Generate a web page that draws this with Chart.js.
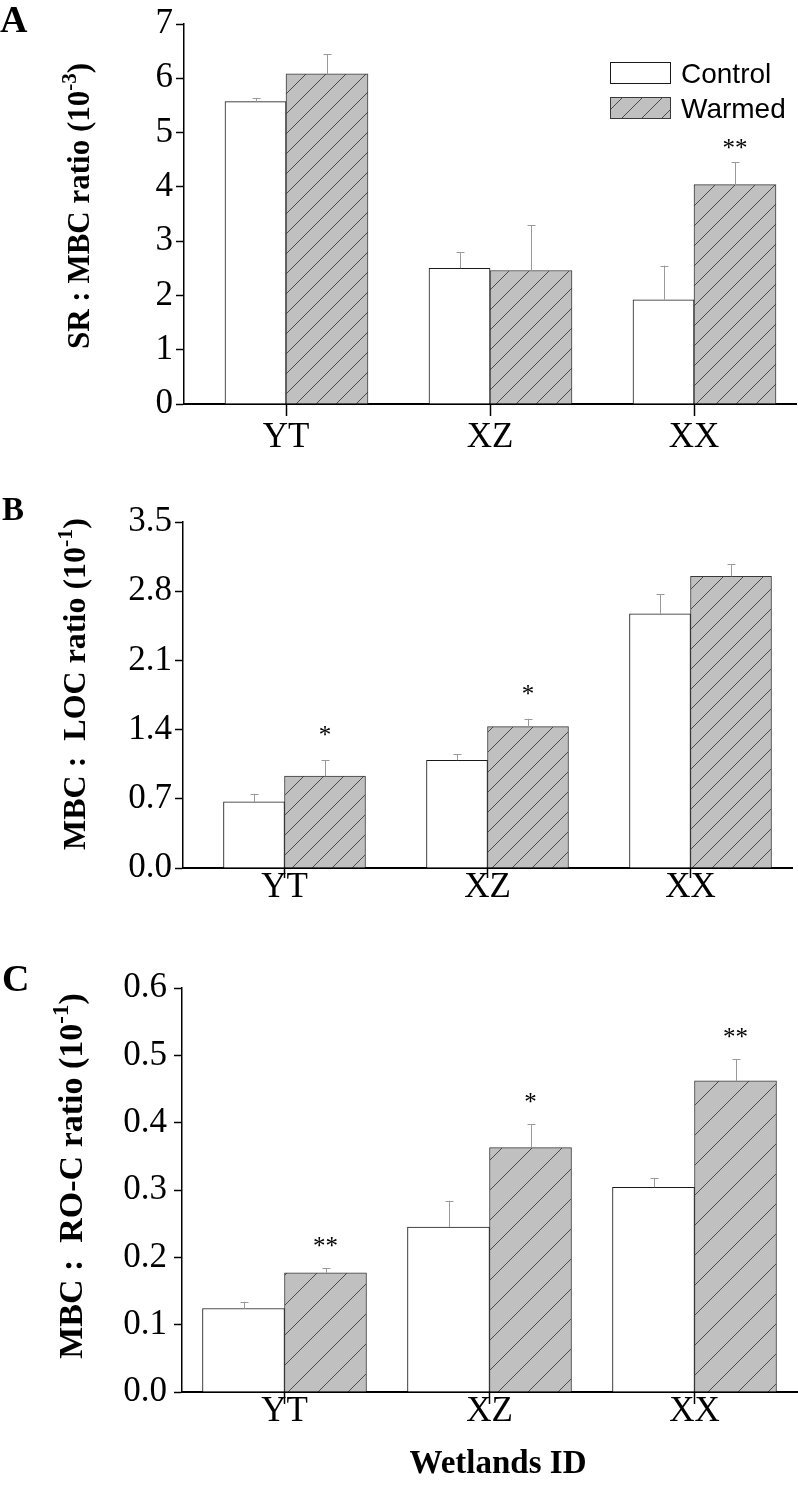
<!DOCTYPE html>
<html>
<head>
<meta charset="utf-8">
<title>Wetlands ratios</title>
<script src="https://cdn.jsdelivr.net/npm/chart.js@4.4.1/dist/chart.umd.min.js"></script>
<style>
  body { margin: 0; background: #fff; }
  .panel { position: absolute; left: 0; }
</style>
</head>
<body>
<canvas id="chartA" class="panel" style="top:0" width="798" height="480"></canvas>
<canvas id="chartB" class="panel" style="top:480px" width="798" height="480"></canvas>
<canvas id="chartC" class="panel" style="top:960px" width="798" height="546"></canvas>
<script>
const categories = ['YT', 'XZ', 'XX'];
const seriesNames = ['Control', 'Warmed'];

// A - SR : MBC ratio (10^-3)
const srControl = [5.57, 2.50, 1.92];
const srControlErr = [0.07, 0.30, 0.63];
const srWarmed = [6.08, 2.46, 4.04];
const srWarmedErr = [0.36, 0.83, 0.41];
const srSig = ['', '', '**'];
const srTicks = [0, 1, 2, 3, 4, 5, 6, 7];

// B - MBC : LOC ratio (10^-1)
const locControl = [0.67, 1.09, 2.57];
const locControlErr = [0.08, 0.06, 0.20];
const locWarmed = [0.93, 1.43, 2.95];
const locWarmedErr = [0.16, 0.08, 0.125];
const locSig = ['*', '*', ''];
const locTicks = [0, 0.7, 1.4, 2.1, 2.8, 3.5];

// C - MBC : RO-C ratio (10^-1)
const rocControl = [0.124, 0.245, 0.304];
const rocControlErr = [0.010, 0.039, 0.014];
const rocWarmed = [0.177, 0.363, 0.462];
const rocWarmedErr = [0.007, 0.035, 0.032];
const rocSig = ['**', '*', '**'];
const rocTicks = [0, 0.1, 0.2, 0.3, 0.4, 0.5, 0.6];

const serif = '"Liberation Serif", "Times New Roman", serif';

function hatch(canvas, step) {
    const c = document.createElement('canvas');
    c.width = step;
    c.height = step;
    const g = c.getContext('2d');
    g.fillStyle = '#c0c0c0';
    g.fillRect(0, 0, step, step);
    g.strokeStyle = '#4a4a4a';
    g.lineWidth = 1;
    g.beginPath();
    for (let k = -1; k <= 1; k++) {
        g.moveTo(k * step, step);
        g.lineTo(k * step + step, 0);
    }
    g.stroke();
    return canvas.getContext('2d').createPattern(c, 'repeat');
}

// error bars (upper only) + significance stars
const errorBars = {
    id: 'errorBars',
    afterDatasetsDraw(chart, args, opts) {
        const ctx = chart.ctx;
        const y = chart.scales.y;
        chart.data.datasets.forEach((ds, i) => {
            chart.getDatasetMeta(i).data.forEach((bar, j) => {
                const top = y.getPixelForValue(ds.data[j] + ds.errors[j]);
                const x = Math.round(bar.x) + 0.5;
                ctx.save();
                ctx.strokeStyle = '#9a9a9a';
                ctx.lineWidth = 1;
                ctx.beginPath();
                ctx.moveTo(x, bar.y);
                ctx.lineTo(x, top);
                ctx.moveTo(x - 4, Math.round(top) + 0.5);
                ctx.lineTo(x + 4, Math.round(top) + 0.5);
                ctx.stroke();
                if (ds.sig && ds.sig[j]) {
                    ctx.fillStyle = '#000';
                    ctx.font = '25px ' + serif;
                    ctx.textAlign = 'center';
                    ctx.textBaseline = 'alphabetic';
                    ctx.fillText(ds.sig[j], bar.x, top - opts.sigGap);
                }
                ctx.restore();
            });
        });
    }
};

// legend box inside panel A
const boxLegend = {
    id: 'boxLegend',
    afterDraw(chart, args, opts) {
        if (!opts.show) return;
        const ctx = chart.ctx;
        chart.data.datasets.forEach((ds, i) => {
            const x = opts.x, y = opts.y + i * opts.step;
            ctx.save();
            ctx.fillStyle = ds.backgroundColor;
            ctx.fillRect(x, y, 61, 21);
            ctx.strokeStyle = ds.borderColor;
            ctx.lineWidth = 1;
            ctx.strokeRect(x + 0.5, y + 0.5, 60, 21);
            ctx.fillStyle = '#000';
            ctx.font = '28px "Liberation Sans", Arial, sans-serif';
            ctx.textAlign = 'left';
            ctx.textBaseline = 'alphabetic';
            ctx.fillText(ds.label, x + 71, y + 21);
            ctx.restore();
        });
    }
};

// rotated y title with superscript, panel letter, bottom title
const sideTitle = {
    id: 'sideTitle',
    afterDraw(chart, args, o) {
        const ctx = chart.ctx;
        ctx.save();
        ctx.fillStyle = '#000';
        ctx.textBaseline = 'alphabetic';
        ctx.translate(o.x, o.y);
        ctx.rotate(-Math.PI / 2);
        const main = 'bold ' + o.size + 'px ' + serif;
        const sup = 'bold ' + Math.round(o.size * 0.68) + 'px ' + serif;
        const parts = [[o.text, main, 0], [o.power, sup, -o.size * 0.42], [')', main, 0]];
        let w = 0;
        parts.forEach(p => { ctx.font = p[1]; w += ctx.measureText(p[0]).width; });
        let x = -w / 2;
        parts.forEach(p => {
            ctx.font = p[1];
            ctx.fillText(p[0], x, p[2]);
            x += ctx.measureText(p[0]).width;
        });
        ctx.restore();

        ctx.save();
        ctx.fillStyle = '#000';
        ctx.textBaseline = 'alphabetic';
        ctx.textAlign = 'left';
        ctx.font = 'bold ' + o.letter.size + 'px ' + serif;
        ctx.fillText(o.letter.text, o.letter.x, o.letter.y);
        if (o.bottom) {
            ctx.textAlign = 'center';
            ctx.font = 'bold ' + o.bottom.size + 'px ' + serif;
            ctx.fillText(o.bottom.text, o.bottom.x, o.bottom.y);
        }
        ctx.restore();
    }
};

function panel(id, p) {
    const el = document.getElementById(id);
    const H = el.height;
    const W = el.width;
    const fill = hatch(el, p.hatchStep);
    return new Chart(el, {
        type: 'bar',
        data: {
            labels: categories,
            datasets: [{
                label: seriesNames[0],
                data: p.control,
                errors: p.controlErr,
                sig: [],
                backgroundColor: '#ffffff',
                borderColor: '#1a1a1a',
                borderWidth: 1,
                barThickness: p.widths[0]
            }, {
                label: seriesNames[1],
                data: p.warmed,
                errors: p.warmedErr,
                sig: p.sig,
                backgroundColor: fill,
                borderColor: '#3a3a3a',
                borderWidth: 1,
                barThickness: p.widths[1]
            }]
        },
        options: {
            responsive: false,
            animation: false,
            events: [],
            layout: {
                padding: { left: 0, top: p.area.top, right: W - p.area.right, bottom: 0 }
            },
            plugins: {
                legend: { display: false },
                tooltip: { enabled: false },
                errorBars: { sigGap: p.sigGap },
                boxLegend: { show: p.legend, x: 610, y: 62, step: 35 },
                sideTitle: p.title
            },
            scales: {
                x: {
                    z: 1,
                    afterFit: s => { s.height = H - p.area.bottom; },
                    grid: {
                        display: true,
                        drawOnChartArea: false,
                        offset: false,
                        tickLength: p.xTick,
                        tickWidth: 1.5,
                        tickColor: '#000'
                    },
                    border: { display: true, color: '#000', width: 2 },
                    ticks: {
                        color: '#000',
                        padding: p.xPad,
                        maxRotation: 0,
                        autoSkip: false,
                        font: { family: serif, size: 35 }
                    }
                },
                y: {
                    min: 0,
                    max: p.ticks[p.ticks.length - 1],
                    afterBuildTicks: s => { s.ticks = p.ticks.map(v => ({ value: v })); },
                    afterFit: s => { s.width = p.area.left; },
                    grid: {
                        display: true,
                        drawOnChartArea: false,
                        tickLength: 8,
                        tickWidth: 1.5,
                        tickColor: '#000'
                    },
                    border: { display: true, color: '#000', width: 1.5 },
                    ticks: {
                        color: '#000',
                        padding: p.yPad,
                        font: { family: serif, size: 35 },
                        callback: v => v.toFixed(p.decimals)
                    }
                }
            }
        },
        plugins: [errorBars, boxLegend, sideTitle]
    });
}

panel('chartA', {
    control: srControl, controlErr: srControlErr,
    warmed: srWarmed, warmedErr: srWarmedErr, sig: srSig,
    ticks: srTicks, decimals: 0,
    area: { left: 184, top: 22, right: 796, bottom: 404 },
    widths: [61, 82], hatchStep: 20,
    xTick: 12, xPad: 1, yPad: 3, sigGap: 6, legend: true,
    title: {
        text: 'SR : MBC ratio (10', power: '-3', x: 89, y: 206, size: 31,
        letter: { text: 'A', x: 0, y: 32, size: 38 }
    }
});

panel('chartB', {
    control: locControl, controlErr: locControlErr,
    warmed: locWarmed, warmedErr: locWarmedErr, sig: locSig,
    ticks: locTicks, decimals: 1,
    area: { left: 183, top: 42, right: 792, bottom: 388 },
    widths: [61, 81], hatchStep: 20,
    xTick: 10, xPad: -11, yPad: 3, sigGap: 17, legend: false,
    title: {
        text: 'MBC :  LOC ratio (10', power: '-1', x: 85, y: 204, size: 32,
        letter: { text: 'B', x: 2, y: 40, size: 33 }
    }
});

panel('chartC', {
    control: rocControl, controlErr: rocControlErr,
    warmed: rocWarmed, warmedErr: rocWarmedErr, sig: rocSig,
    ticks: rocTicks, decimals: 1,
    area: { left: 182, top: 20, right: 797, bottom: 432 },
    widths: [82, 82], hatchStep: 30,
    xTick: 12, xPad: -13, yPad: 7, sigGap: 14, legend: false,
    title: {
        text: 'MBC :  RO-C ratio (10', power: '-1', x: 82, y: 216, size: 34,
        letter: { text: 'C', x: 2, y: 31, size: 38 },
        bottom: { text: 'Wetlands ID', x: 498, y: 513, size: 33 }
    }
});
</script>
</body>
</html>
